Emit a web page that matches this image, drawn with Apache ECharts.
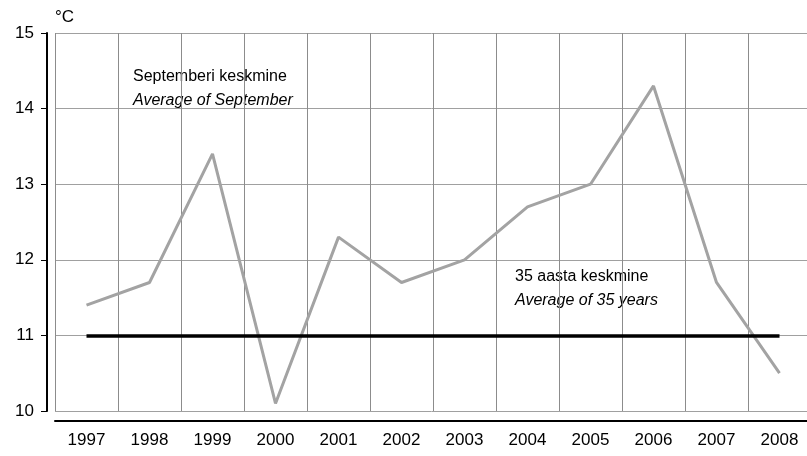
<!DOCTYPE html>
<html>
<head>
<meta charset="utf-8">
<script src="https://cdn.jsdelivr.net/npm/echarts@6/dist/echarts.min.js"></script>
<style>
  html, body { margin: 0; padding: 0; background: #fff; }
  #chart { width: 807px; height: 456px; }
</style>
</head>
<body>
<div id="chart"></div>
<script>
var years = ['1997', '1998', '1999', '2000', '2001', '2002', '2003', '2004', '2005', '2006', '2007', '2008']
var septemberTemps = [11.4, 11.7, 13.4, 10.1, 12.3, 11.7, 12.0, 12.7, 13.0, 14.3, 11.7, 10.5]
var longTermAverage = 11
var yTicks = [10, 11, 12, 13, 14, 15]

var font = 'Liberation Sans, Arial, sans-serif'
var chart = echarts.init(document.getElementById('chart'))

chart.setOption({
  animation: false,
  grid: { left: 55, top: 33, width: 756, height: 378, outerBoundsMode: 'none' },
  xAxis: {
    type: 'category',
    data: years,
    boundaryGap: true,
    offset: 10,
    axisLine: { lineStyle: { color: '#000', width: 2 } },
    axisTick: { length: 6, lineStyle: { color: '#000', width: 1 } },
    axisLabel: { color: '#000', fontSize: 17, fontFamily: font, margin: 11 },
    splitLine: { show: true, lineStyle: { color: '#8c8c8c', width: 1 } }
  },
  yAxis: {
    type: 'value',
    min: yTicks[0],
    max: yTicks[yTicks.length - 1],
    interval: 1,
    offset: 8,
    axisLine: { show: true, lineStyle: { color: '#000', width: 2 } },
    axisTick: { show: true, length: 6, lineStyle: { color: '#000', width: 1 } },
    axisLabel: { color: '#000', fontSize: 17, fontFamily: font, margin: 13 },
    splitLine: { show: true, lineStyle: { color: '#a0a0a0', width: 1 } }
  },
  series: [
    {
      type: 'line',
      data: septemberTemps,
      showSymbol: false,
      lineStyle: { color: '#a3a3a3', width: 3 },
      markLine: {
        symbol: 'none',
        silent: true,
        label: { show: false },
        lineStyle: { color: '#000', width: 3.5, type: 'solid' },
        data: [[
          { xAxis: years[0], yAxis: longTermAverage },
          { xAxis: years[years.length - 1], yAxis: longTermAverage }
        ]]
      }
    }
  ],
  graphic: [
    { type: 'text', left: 55, top: 9, style: { text: '°C', font: '17px ' + font, fill: '#000' } },
    { type: 'text', left: 133, top: 69, style: { text: 'Septemberi keskmine', font: '16px ' + font, fill: '#000' } },
    { type: 'text', left: 133, top: 93, style: { text: 'Average of September', font: 'italic 16px ' + font, fill: '#000' } },
    { type: 'text', left: 515, top: 269, style: { text: '35 aasta keskmine', font: '16px ' + font, fill: '#000' } },
    { type: 'text', left: 515, top: 293, style: { text: 'Average of 35 years', font: 'italic 16px ' + font, fill: '#000' } }
  ]
})
</script>
</body>
</html>
